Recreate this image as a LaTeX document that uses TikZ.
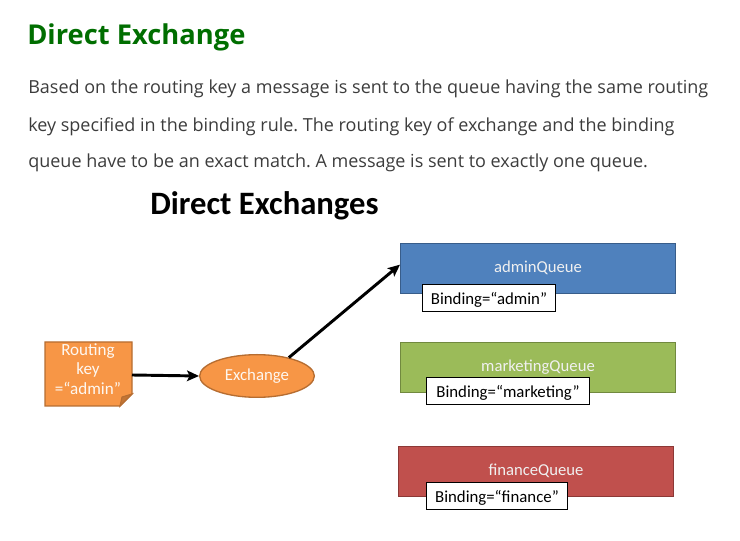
\documentclass[tikz,border=0pt]{standalone}
\usepackage{fontspec}
\setmainfont{Open Sans}
\newfontfamily\calib{Carlito}
\usetikzlibrary{shapes.geometric,arrows.meta}
\definecolor{titlegreen}{RGB}{0,110,0}
\definecolor{bodygray}{RGB}{60,60,60}
\definecolor{orfill}{RGB}{247,150,70}
\definecolor{ordraw}{RGB}{182,109,49}
\definecolor{blfill}{RGB}{79,129,189}
\definecolor{bldraw}{RGB}{56,93,138}
\definecolor{grfill}{RGB}{155,187,89}
\definecolor{grdraw}{RGB}{113,137,63}
\definecolor{rdfill}{RGB}{192,80,77}
\definecolor{rddraw}{RGB}{140,56,54}
\frenchspacing
\tikzset{
  queue/.style={draw=#1, line width=1pt, minimum width=206pt, minimum height=37.5pt, anchor=north west, inner sep=0pt},
  qlabel/.style={text=white!94!black, font=\calib\fontsize{12.5}{15}\selectfont},
  bind/.style={draw=black, fill=white, line width=1pt, anchor=north west, font=\calib\fontsize{12.6}{14}\selectfont, inner sep=0pt, minimum height=20pt, text depth=0pt},
  para/.style={anchor=base west, inner sep=0pt, text=bodygray, font=\fontsize{13.5}{16}\selectfont},
  conn/.style={line width=2.2pt, -{Stealth[length=9pt,width=8pt,inset=2pt]}},
}
\begin{document}
\begin{tikzpicture}[x=0.75pt,y=-0.75pt]
\useasboundingbox (0,0) rectangle (740,541);
% heading and paragraph
\node[anchor=base west, inner sep=0pt, text=titlegreen, font=\bfseries\fontsize{20.5}{24}\selectfont] (title) at (27,45) {Direct Exchange};
\node[para] (p1) at (28,94) {Based on the routing key a message is sent to the queue having the same routing};
\node[para] (p2) at (28,132) {key specified in the binding rule. The routing key of exchange and the binding};
\node[para] (p3) at (28,168) {queue have to be an exact match. A message is sent to exactly one queue.};
\node[anchor=base west, inner sep=0pt, font=\calib\bfseries\fontsize{24.5}{28}\selectfont] (dtitle) at (150,215) {Direct Exchanges};
% routing key note
\path[fill=orfill, draw=ordraw, line width=0.8pt] (45,342) -- (132,342) -- (132,394) -- (120,406) -- (45,406) -- cycle;
\path[fill=ordraw!80!orfill, draw=ordraw, line width=0.8pt] (132,394) -- (122,397) -- (120,406) -- cycle;
\node[inner sep=0pt, align=center, text=white!92!orfill, font=\calib\fontsize{12.8}{14.5}\selectfont] (rk) at (88,369) {Routing\\key\\=“admin”};
\coordinate (rkE) at (132,375);
% exchange
\node[ellipse, fill=orfill, draw=ordraw, line width=1pt, minimum width=86pt, minimum height=32pt, inner sep=0pt, text=white!92!orfill, font=\calib\fontsize{12.6}{14}\selectfont] (ex) at (257,376) {Exchange};
% queues
\node[queue=bldraw, fill=blfill] (qa) at (400,243) {};
\node[qlabel] (qat) at (538,268) {adminQueue};
\node[queue=grdraw, fill=grfill] (qm) at (400,342) {};
\node[qlabel] (qmt) at (538,367) {marketingQueue};
\node[queue=rddraw, fill=rdfill] (qf) at (398,446) {};
\node[qlabel] (qft) at (536,471) {financeQueue};
% bindings
\node[bind, minimum width=99.5pt] (ba) at (422,284) {Binding=“admin”};
\node[bind, minimum width=122pt] (bm) at (426,377) {Binding=“marketing”};
\node[bind, minimum width=105.5pt] (bf) at (426,482) {Binding=“finance”};
% connectors
\draw[conn] (rkE) -- (ex.west);
\draw[conn] (ex.30) -- ([yshift=3pt]qa.west);
\end{tikzpicture}
\end{document}
